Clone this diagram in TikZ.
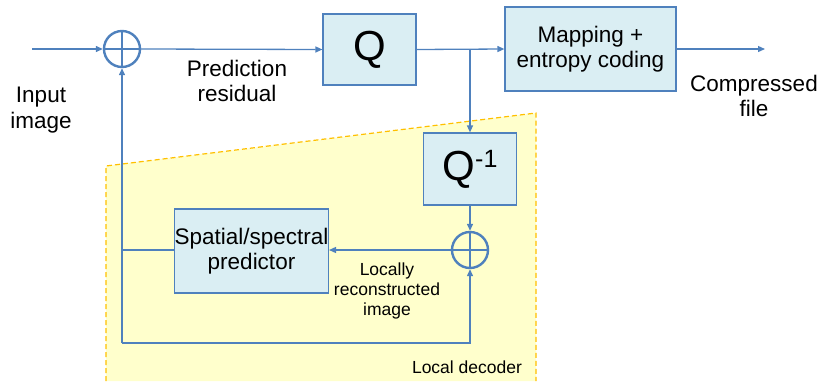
\documentclass[tikz,border=0pt]{standalone}
\usepackage{fontspec}
\setmainfont{Liberation Sans}
\usetikzlibrary{arrows.meta}
\definecolor{lineblue}{HTML}{4F81BD}
\definecolor{boxfill}{HTML}{DAEEF3}
\definecolor{decfill}{HTML}{FFFFCC}
\definecolor{decline}{HTML}{FFC000}
\begin{document}
\begin{tikzpicture}[x=1pt,y=-1pt,
  blk/.style={draw=lineblue, fill=boxfill, line width=1.2pt, inner sep=0pt, align=center, font=\fontsize{22.5}{25.5}\selectfont},
  sumnode/.style={circle, draw=lineblue, line width=2.4pt, minimum size=36pt, inner sep=0pt},
  conn/.style={draw=lineblue, line width=1.3pt},
  arr/.style={conn, -{Triangle[length=7pt,width=6pt]}},
  lbl/.style={align=center, font=\fontsize{22.5}{25.5}\selectfont, inner sep=0pt},
  smalllbl/.style={align=center, font=\fontsize{17.5}{20}\selectfont, inner sep=0pt}
]
\useasboundingbox (0,0) rectangle (820,381);
% local decoder region
\fill[decfill] (106,381) -- (106,166) -- (536,113) -- (536,381) -- cycle;
\draw[decline, line width=1.2pt, dash pattern=on 5pt off 3pt] (106,381) -- (106,166) -- (536,113) -- (536,381);

% blocks
\node[sumnode] (s1) at (122,49) {};
\node[blk, minimum width=93pt, minimum height=71pt, font=\fontsize{42}{44}\selectfont] (q) at (369.5,49.5) {Q};
\node[blk, minimum width=171pt, minimum height=84pt] (map) at (590.5,49) {Mapping +\\entropy coding};
\node[blk, minimum width=93pt, minimum height=72pt, font=\fontsize{42}{44}\selectfont] (qi) at (470,169) {Q\raisebox{13pt}{\fontsize{25}{25}\selectfont -1}};
\node[sumnode] (s2) at (470,250) {};
\node[blk, minimum width=153pt, minimum height=84pt] (pred) at (251.5,251) {Spatial/spectral\\predictor};

\draw[lineblue, line width=2.4pt] (s1.north) -- (s1.south) (s1.west) -- (s1.east);
\draw[lineblue, line width=2.4pt] (s2.north) -- (s2.south) (s2.west) -- (s2.east);

% connectors
\coordinate (in) at (32,49);
\coordinate (out) at (765,49);
\coordinate (lc) at (122,250);
\coordinate (bl) at (122,343);
\draw[arr] (in) -- (s1.west);
\draw[arr] (s1.east) -- (q.west);
\draw[arr] (q.east) -- (map.west);
\draw[arr] (map.east) -- (out);
\draw[arr] (qi.north |- q.east) -- (qi.north);
\draw[arr] (qi.south) -- (s2.north);
\draw[arr] (s2.west) -- (pred.east |- s2.west);
\draw[conn] (pred.west |- lc) -- (lc);
\draw[arr] (bl) -- (s1.south);
\draw[arr] (bl) -- (s2.south |- bl) -- (s2.south);

% labels
\node[lbl] (inlbl) at (41,110) {Input\\image};
\node[lbl] (reslbl) at (237,81) {Prediction\\residual};
\node[lbl] (outlbl) at (754,96) {Compressed\\file};
\node[smalllbl] (loclbl) at (387,291) {Locally\\reconstructed\\image};
\node[smalllbl] (declbl) at (467,367) {Local decoder};
\end{tikzpicture}
\end{document}
